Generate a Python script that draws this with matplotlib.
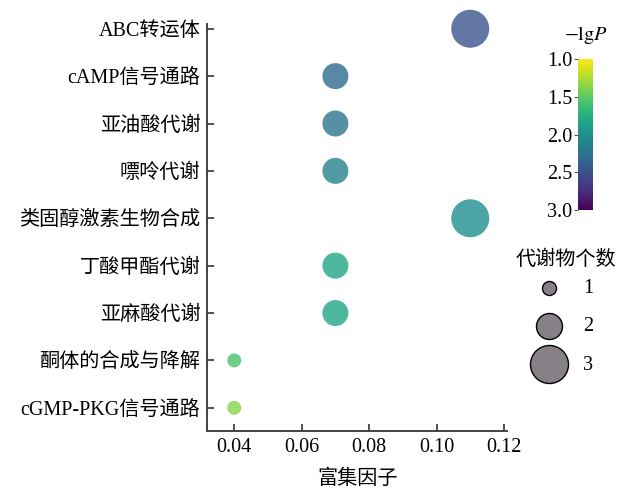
"""
KEGG enrichment bubble chart: rich factor vs pathway,
colour = -lgP, bubble size = number of metabolites.
"""

import numpy as np
import matplotlib
matplotlib.use("Agg")
import matplotlib.pyplot as plt
from matplotlib.colors import Normalize
from matplotlib.cm import ScalarMappable

plt.rcParams["font.family"] = ["Liberation Serif", "Noto Sans CJK SC"]
plt.rcParams["mathtext.fontset"] = "stix"
plt.rcParams["axes.unicode_minus"] = False

# ── Data ─────────────────────────────────────────────────────────────────────
pathways = [
    "ABC转运体",
    "cAMP信号通路",
    "亚油酸代谢",
    "嘌呤代谢",
    "类固醇激素生物合成",
    "丁酸甲酯代谢",
    "亚麻酸代谢",
    "酮体的合成与降解",
    "cGMP-PKG信号通路",
]
rich_factor = [0.11, 0.07, 0.07, 0.07, 0.11, 0.07, 0.07, 0.04, 0.04]
neg_lg_p = [2.48, 2.32, 2.22, 2.10, 2.02, 1.82, 1.82, 1.58, 1.36]
metab_count = [3, 2, 2, 2, 3, 2, 2, 1, 1]

x_ticks = [0.04, 0.06, 0.08, 0.10, 0.12]
cbar_ticks = [1.0, 1.5, 2.0, 2.5, 3.0]
legend_counts = [1, 2, 3]

FS = 14.5
SPINE = "#444444"


def bubble_size(n):
    # marker area in pt^2 from a pixel diameter
    return (0.72 * (2 + 12 * np.asarray(n))) ** 2


fig = plt.figure(figsize=(6.21, 4.90), dpi=100)
ax = fig.add_axes([0.3338, 0.1204, 0.4826, 0.8306])

norm = Normalize(vmin=1.0, vmax=3.0)
cmap = plt.get_cmap("viridis_r")
ypos = np.arange(len(pathways))

ax.scatter(rich_factor, ypos, s=bubble_size(metab_count), c=neg_lg_p,
           cmap=cmap, norm=norm, alpha=0.8, linewidths=0, zorder=3,
           clip_on=False)

ax.set_yticks(ypos)
ax.set_yticklabels(pathways, fontsize=FS)
ax.set_ylim(len(pathways) - 1 + 0.49, -0.1)
ax.set_xlim(0.032, 0.1209)
ax.set_xticks(x_ticks)
ax.set_xticklabels([f"{v:.2f}" for v in x_ticks], fontsize=FS)
ax.set_xlabel("富集因子", fontsize=FS, labelpad=9)

ax.spines[["top", "right"]].set_visible(False)
for side in ("left", "bottom"):
    ax.spines[side].set_color(SPINE)
    ax.spines[side].set_linewidth(1.4)
ax.tick_params(direction="in", length=5, width=1.1, color="#222222", pad=5)

# ── Colour bar ───────────────────────────────────────────────────────────────
cax = fig.add_axes([0.9307, 0.5714, 0.0242, 0.308])
sm = ScalarMappable(norm=norm, cmap=cmap)
cbar = fig.colorbar(sm, cax=cax, ticks=cbar_ticks)
cbar.outline.set_visible(False)
cax.invert_yaxis()
cax.yaxis.set_ticks_position("left")
cax.set_yticklabels([f"{v:.1f}" for v in cbar_ticks], fontsize=FS)
cax.tick_params(length=3, width=0.8, color="#555555", pad=1)
cax.set_title(r"$-\mathrm{lg}P$", fontsize=FS, pad=14)

# ── Size legend ──────────────────────────────────────────────────────────────
fig.text(566 / 621, 1 - 260 / 490, "代谢物个数", fontsize=FS,
         ha="center", va="center")
handles = [
    ax.scatter([], [], s=bubble_size(n), color="#878187",
               edgecolors="black", linewidths=1.0)
    for n in legend_counts
]
fig.legend(handles, [str(n) for n in legend_counts],
           fontsize=FS, frameon=False, loc="upper left",
           bbox_to_anchor=(529 / 621, 1 - 279 / 490), labelspacing=0.95,
           handletextpad=0.7, borderpad=0.0, borderaxespad=0.0)

fig.savefig("out.png", dpi=100)
